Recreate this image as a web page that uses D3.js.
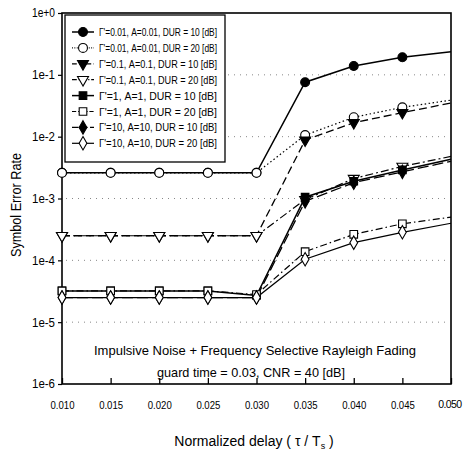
<!DOCTYPE html>
<html><head><meta charset="utf-8">
<script src="https://cdn.jsdelivr.net/npm/d3@7"></script>
<style>
html,body{margin:0;padding:0;background:#fff;}
text{font-family:"Liberation Sans Narrow","Liberation Sans",Arial,sans-serif;fill:#000;}
</style></head>
<body>
<svg id="chart" width="464" height="452"></svg>
<script>
// ---- data ----
const delays = [0.010, 0.015, 0.020, 0.025, 0.030, 0.035, 0.040, 0.045, 0.050];
const xTickLabels = ["0.010","0.015","0.020","0.025","0.030","0.035","0.040","0.045","0.050"];
const yTickValues = [1, 1e-1, 1e-2, 1e-3, 1e-4, 1e-5, 1e-6];
const yTickLabels = ["1e+0","1e-1","1e-2","1e-3","1e-4","1e-5","1e-6"];
const seriesNames = [
  "\u0393'=0.01, A=0.01, DUR = 10 [dB]",
  "\u0393'=0.01, A=0.01, DUR = 20 [dB]",
  "\u0393'=0.1, A=0.1, DUR = 10 [dB]",
  "\u0393'=0.1, A=0.1, DUR = 20 [dB]",
  "\u0393'=1, A=1, DUR = 10 [dB]",
  "\u0393'=1, A=1, DUR = 20 [dB]",
  "\u0393'=10, A=10, DUR = 10 [dB]",
  "\u0393'=10, A=10, DUR = 20 [dB]"
];
const ser1 = [2.6e-3, 2.6e-3, 2.6e-3, 2.6e-3, 2.6e-3, 0.076, 0.139, 0.192, 0.237];
const ser2 = [2.6e-3, 2.6e-3, 2.6e-3, 2.6e-3, 2.6e-3, 0.0106, 0.0206, 0.0298, 0.039];
const ser3 = [2.5e-4, 2.5e-4, 2.5e-4, 2.5e-4, 2.5e-4, 0.0088, 0.0168, 0.0245, 0.035];
const ser4 = [2.5e-4, 2.5e-4, 2.5e-4, 2.5e-4, 2.5e-4, 9.6e-4, 2.1e-3, 3.3e-3, 4.8e-3];
const ser5 = [3.2e-5, 3.2e-5, 3.2e-5, 3.2e-5, 2.7e-5, 1.05e-3, 1.9e-3, 2.9e-3, 4.3e-3];
const ser6 = [3.2e-5, 3.2e-5, 3.2e-5, 3.2e-5, 2.8e-5, 1.38e-4, 2.63e-4, 3.9e-4, 5.0e-4];
const ser7 = [2.5e-5, 2.5e-5, 2.5e-5, 2.5e-5, 2.5e-5, 9.0e-4, 1.8e-3, 2.7e-3, 4.0e-3];
const ser8 = [2.5e-5, 2.5e-5, 2.5e-5, 2.5e-5, 2.5e-5, 1.04e-4, 1.93e-4, 2.84e-4, 3.98e-4];
const allSeries = [ser1, ser2, ser3, ser4, ser5, ser6, ser7, ser8];

// ---- styles ----
const styles = [
  {sym: d3.symbolCircle,   fill: true,  dash: null,        rot: 0,   w: 1.5},
  {sym: d3.symbolCircle,   fill: false, dash: "1.5,2.5",   rot: 0,   w: 1.2},
  {sym: d3.symbolTriangle, fill: true,  dash: "8,4",       rot: 180, w: 1.3},
  {sym: d3.symbolTriangle, fill: false, dash: "8,3,2,3",   rot: 180, w: 1.2},
  {sym: d3.symbolSquare,   fill: true,  dash: null,        rot: 0,   w: 1.5},
  {sym: d3.symbolSquare,   fill: false, dash: "7,3,1.5,3", rot: 0,   w: 1.2},
  {sym: d3.symbolDiamond,  fill: true,  dash: "11,4",      rot: 0,   w: 1.3},
  {sym: d3.symbolDiamond,  fill: false, dash: null,        rot: 0,   w: 1.2}
];
const symSize = [62, 62, 52, 52, 58, 58, 52, 52];

const svg = d3.select("#chart");
const L = 62, R = 451, T = 13, B = 384;
const x = d3.scaleLinear().domain([0.010, 0.050]).range([L, R]);
const y = d3.scaleLog().domain([1e-6, 1]).range([B, T]);

// grid
svg.append("g").selectAll("line").data(yTickValues.slice(1, 6)).join("line")
  .attr("x1", L + 4).attr("x2", R - 4)
  .attr("y1", d => y(d)).attr("y2", d => y(d))
  .attr("stroke", "#888").attr("stroke-width", 1).attr("stroke-dasharray", "1,5");

// axes
const xAxis = d3.axisBottom(x).tickValues(delays)
  .tickFormat((d, i) => xTickLabels[i]).tickSizeInner(-6).tickSizeOuter(0).tickPadding(17);
const gx = svg.append("g").attr("transform", `translate(0,${B})`).call(xAxis);
gx.select(".domain").remove();
gx.selectAll("line").attr("stroke", "#000").attr("stroke-width", 1.3);
gx.selectAll("text").style("font-size", "11.5px").attr("textLength", 24).attr("lengthAdjust", "spacingAndGlyphs");
gx.selectAll(".tick").filter((d, i) => i === delays.length - 1).select("text")
  .attr("text-anchor", "end").attr("x", 10).attr("textLength", null).attr("lengthAdjust", null)
  .style("font-size", "10.5px").style("letter-spacing", "-0.6px");

const yAxis = d3.axisLeft(y).tickValues(yTickValues)
  .tickFormat((d, i) => yTickLabels[i]).tickSizeInner(4).tickSizeOuter(0).tickPadding(3);
const gy = svg.append("g").attr("transform", `translate(${L},0)`).call(yAxis);
gy.select(".domain").remove();
gy.selectAll("line").attr("stroke", "#000").attr("stroke-width", 1.2);
gy.selectAll("text").style("font-size", "12px").attr("textLength", 23).attr("lengthAdjust", "spacingAndGlyphs");

// frame
svg.append("rect").attr("x", L).attr("y", T).attr("width", R - L).attr("height", B - T)
  .attr("fill", "none").attr("stroke", "#000").attr("stroke-width", 1.6);

// series lines
const line = d3.line().x((d, i) => x(delays[i])).y(d => y(d));
allSeries.forEach((s, k) => {
  const st = styles[k];
  svg.append("path").datum(s).attr("d", line)
    .attr("fill", "none").attr("stroke", "#000").attr("stroke-width", st.w)
    .attr("stroke-dasharray", st.dash);
});
// markers (the last point sits on the right frame and has no marker)
allSeries.forEach((s, k) => {
  const st = styles[k];
  const sym = d3.symbol().type(st.sym).size(symSize[k]);
  svg.append("g").selectAll("path").data(s.slice(0, 8)).join("path")
    .attr("d", sym)
    .attr("transform", (d, i) => `translate(${x(delays[i])},${y(d)}) rotate(${st.rot})`)
    .attr("fill", st.fill ? "#000" : "#fff").attr("stroke", "#000").attr("stroke-width", 1.1);
});

// legend
const lg = svg.append("g");
lg.append("rect").attr("x", 65).attr("y", 15).attr("width", 160).attr("height", 147)
  .attr("fill", "#fff").attr("stroke", "#000").attr("stroke-width", 1.3);
seriesNames.forEach((name, k) => {
  const st = styles[k];
  const yy = 32 + k * 15.9;
  lg.append("line").attr("x1", 72).attr("x2", 94).attr("y1", yy).attr("y2", yy)
    .attr("stroke", "#000").attr("stroke-width", st.w).attr("stroke-dasharray", st.dash ? st.dash.split(",").map(v => v * 0.6).join(",") : null);
  lg.append("path").attr("d", d3.symbol().type(st.sym).size(symSize[k])())
    .attr("transform", `translate(83,${yy}) rotate(${st.rot})`)
    .attr("fill", st.fill ? "#000" : "#fff").attr("stroke", "#000").attr("stroke-width", 1.1);
  lg.append("text").attr("x", 99).attr("y", yy + 4).style("font-size", "11.5px")
    .attr("textLength", 118).attr("lengthAdjust", "spacingAndGlyphs").text(name);
});

// annotation
svg.append("text").attr("x", 255).attr("y", 355).attr("text-anchor", "middle")
  .style("font-size", "13.5px").attr("textLength", 322).attr("lengthAdjust", "spacingAndGlyphs")
  .text("Impulsive Noise + Frequency Selective Rayleigh Fading");
svg.append("text").attr("x", 251).attr("y", 377).attr("text-anchor", "middle")
  .style("font-size", "13.5px").attr("textLength", 188).attr("lengthAdjust", "spacingAndGlyphs")
  .text("guard time = 0.03,  CNR = 40 [dB]");

// axis titles
const xt = svg.append("text").attr("x", 254).attr("y", 446).attr("text-anchor", "middle")
  .style("font-size", "14px");
xt.append("tspan").text("Normalized delay  ( \u03C4 / T");
xt.append("tspan").attr("dy", 3).style("font-size", "9px").text("s");
xt.append("tspan").attr("dy", -3).text(" )");

svg.append("text").attr("transform", "translate(21,205) rotate(-90)").attr("text-anchor", "middle")
  .style("font-size", "14px").attr("textLength", 104).attr("lengthAdjust", "spacingAndGlyphs")
  .text("Symbol Error Rate");
</script>
</body></html>
